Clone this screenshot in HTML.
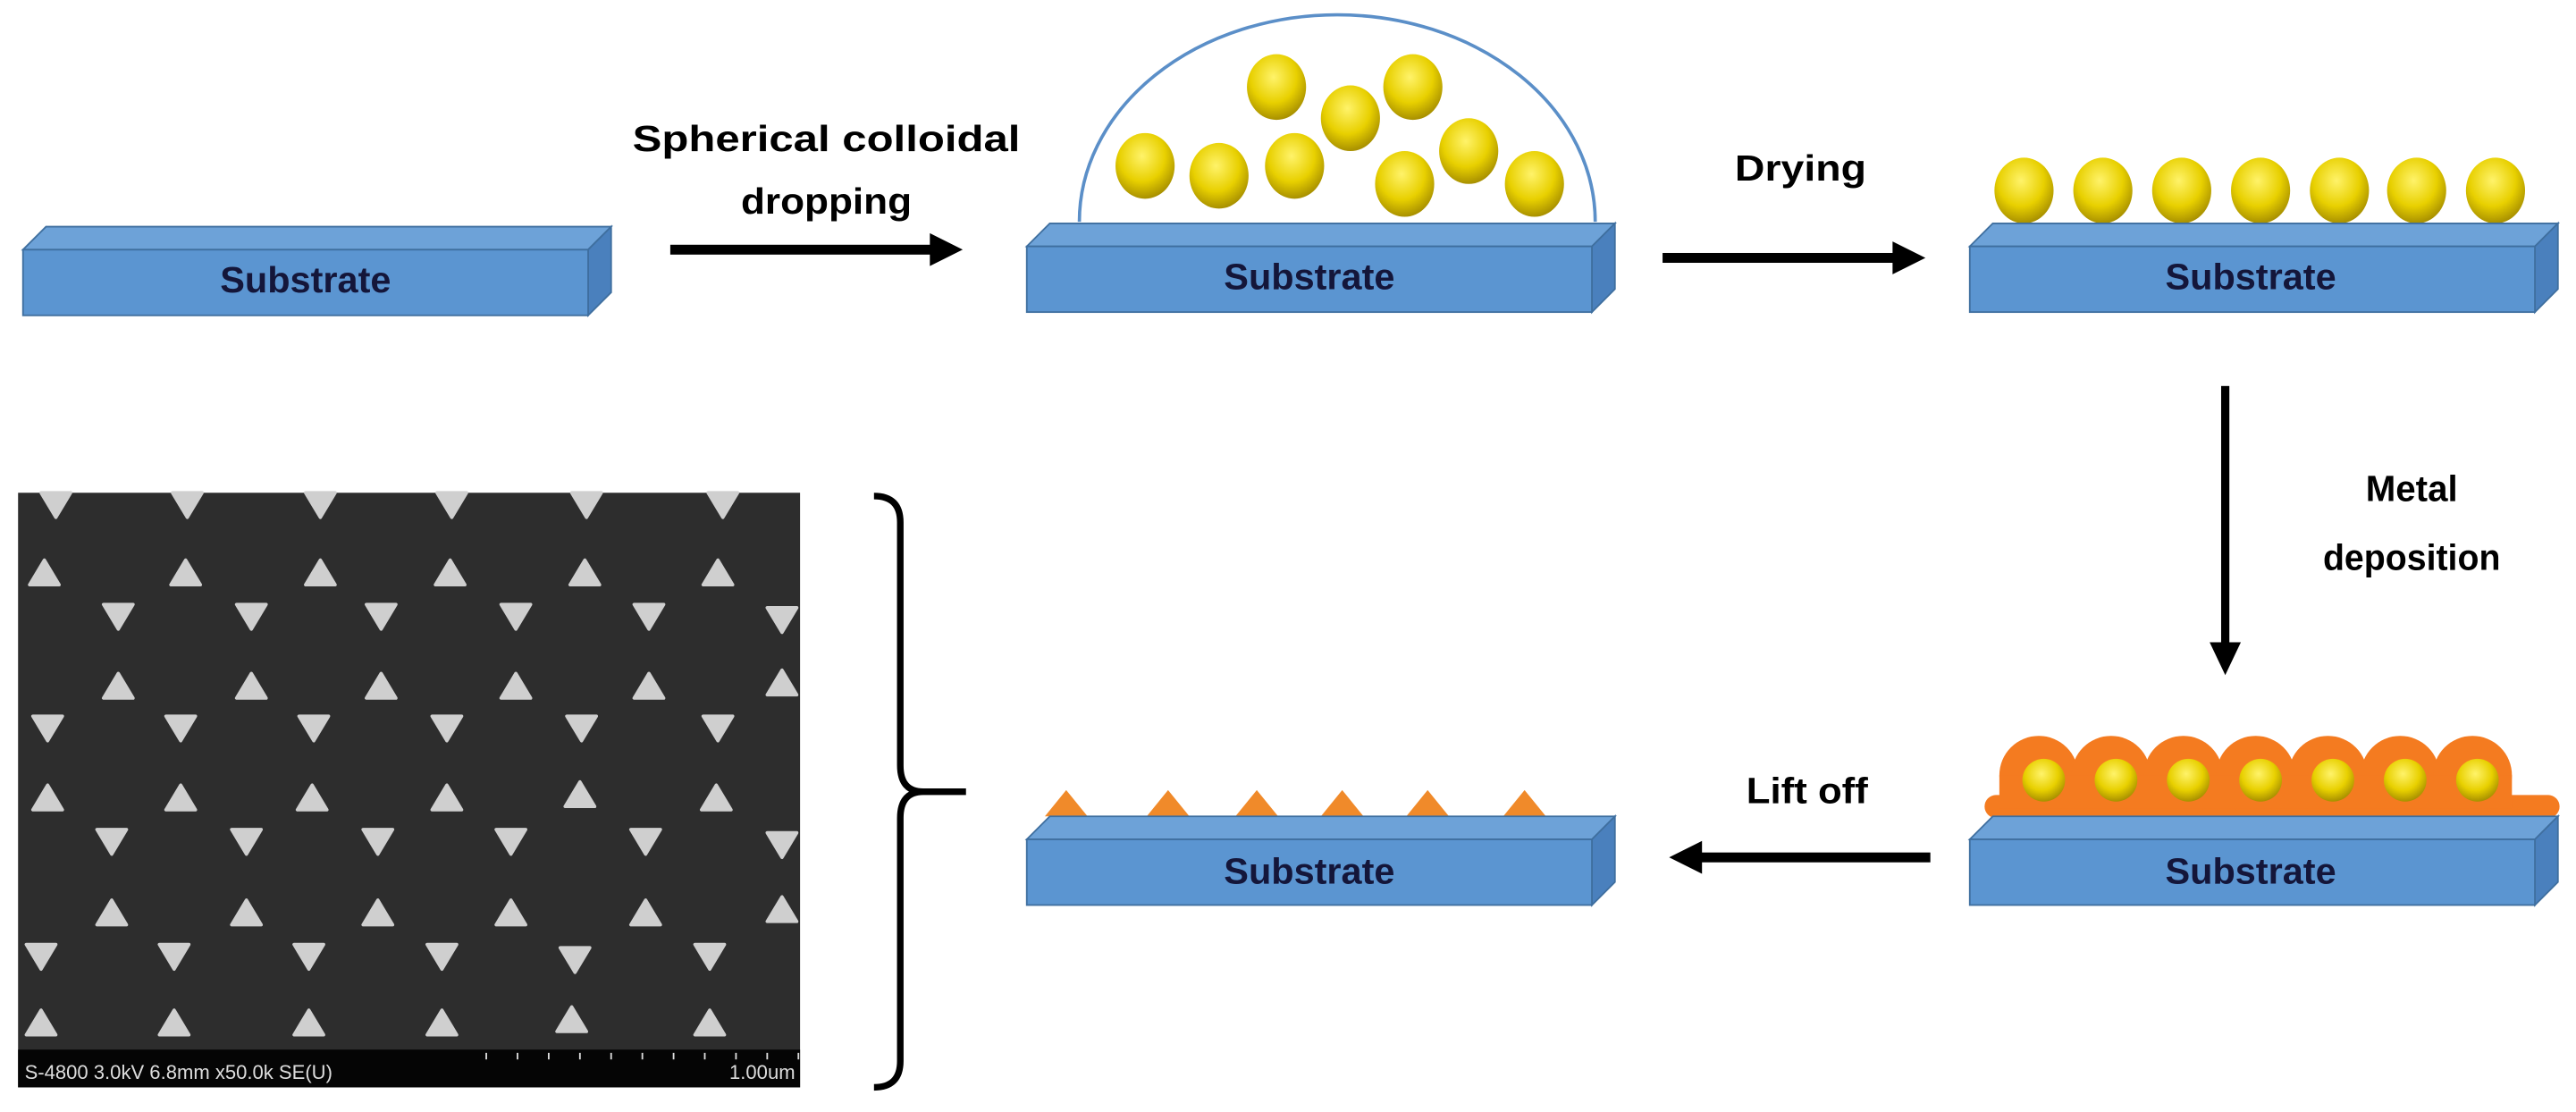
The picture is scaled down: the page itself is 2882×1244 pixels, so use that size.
<!DOCTYPE html>
<html><head><meta charset="utf-8"><style>
html,body{margin:0;padding:0;background:#fff;overflow:hidden}
svg{display:block}
.lb{font-family:"Liberation Sans",sans-serif;font-weight:bold;font-size:22px;fill:#000;text-anchor:middle}
.st{font-family:"Liberation Sans",sans-serif;font-weight:bold;font-size:22px;fill:#14163a;text-anchor:middle}
</style></head><body>
<svg width="2882" height="1244" viewBox="0 0 1568 677" preserveAspectRatio="none" xmlns="http://www.w3.org/2000/svg">
<defs>
<radialGradient id="yb" cx="0.45" cy="0.35" r="0.65">
<stop offset="0" stop-color="#fff36a"/><stop offset="0.6" stop-color="#e8d000"/><stop offset="1" stop-color="#a89000"/>
</radialGradient>
<g id="sub">
<polygon points="0,14 14,0 358,0 344,14" fill="#6da2d8" stroke="#3f6f9f" stroke-width="1"/>
<polygon points="344,14 358,0 358,40 344,54" fill="#4a80bd" stroke="#3f6f9f" stroke-width="1"/>
<rect x="0" y="14" width="344" height="40" fill="#5b95d1" stroke="#3f6f9f" stroke-width="1"/>
</g>
<polygon id="td" points="-9,-7 9,-7 0,8" fill="#cfcfcf" stroke="#cfcfcf" stroke-width="2" stroke-linejoin="round"/>
<polygon id="tu" points="-9,7 9,7 0,-8" fill="#cfcfcf" stroke="#cfcfcf" stroke-width="2" stroke-linejoin="round"/>
<g id="ball"><ellipse rx="18" ry="20" fill="url(#yb)"/></g>
</defs>

<use href="#sub" x="14" y="138"/>
<text class="st" x="186" y="178" textLength="104" lengthAdjust="spacingAndGlyphs">Substrate</text>
<rect x="408" y="149" width="160" height="6" fill="#000"/>
<polygon points="566,142 586,152 566,162" fill="#000"/>
<text class="lb" x="503" y="92" textLength="236" lengthAdjust="spacingAndGlyphs" font-size="25">Spherical colloidal</text>
<text class="lb" x="503" y="130" textLength="104" lengthAdjust="spacingAndGlyphs" font-size="25">dropping</text>

<path d="M657,135 A157,126 0 0 1 971,135" fill="none" stroke="#5b8fc8" stroke-width="2"/>
<use href="#ball" x="697" y="101"/><use href="#ball" x="742" y="107"/><use href="#ball" x="777" y="53"/>
<use href="#ball" x="788" y="101"/><use href="#ball" x="822" y="72"/><use href="#ball" x="860" y="53"/>
<use href="#ball" x="855" y="112"/><use href="#ball" x="894" y="92"/><use href="#ball" x="934" y="112"/>
<use href="#sub" x="625" y="136"/>
<text class="st" x="797" y="176" textLength="104" lengthAdjust="spacingAndGlyphs">Substrate</text>

<rect x="1012" y="154" width="142" height="6" fill="#000"/>
<polygon points="1152,147 1172,157 1152,167" fill="#000"/>
<text class="lb" x="1096" y="110" textLength="80" lengthAdjust="spacingAndGlyphs" font-size="25">Drying</text>

<use href="#ball" x="1232" y="116"/><use href="#ball" x="1280" y="116"/><use href="#ball" x="1328" y="116"/>
<use href="#ball" x="1376" y="116"/><use href="#ball" x="1424" y="116"/><use href="#ball" x="1471" y="116"/>
<use href="#ball" x="1519" y="116"/>
<use href="#sub" x="1199" y="136"/>
<text class="st" x="1370" y="176" textLength="104" lengthAdjust="spacingAndGlyphs">Substrate</text>

<rect x="1352" y="235" width="5" height="158" fill="#000"/>
<polygon points="1345,391 1364,391 1354.5,411" fill="#000"/>
<text class="lb" x="1468" y="305" font-size="25" textLength="56" lengthAdjust="spacingAndGlyphs">Metal</text>
<text class="lb" x="1468" y="347" font-size="25" textLength="108" lengthAdjust="spacingAndGlyphs">deposition</text>

<rect x="1208" y="484" width="350" height="14" rx="7" fill="#f47b20"/>
<g fill="#f47b20">
<circle cx="1241" cy="472" r="24"/><circle cx="1285" cy="472" r="24"/><circle cx="1329" cy="472" r="24"/>
<circle cx="1373" cy="472" r="24"/><circle cx="1417" cy="472" r="24"/><circle cx="1461" cy="472" r="24"/>
<circle cx="1505" cy="472" r="24"/>
<rect x="1217" y="472" width="312" height="20"/>
</g>
<g>
<circle cx="1244" cy="475" r="13" fill="url(#yb)"/><circle cx="1288" cy="475" r="13" fill="url(#yb)"/>
<circle cx="1332" cy="475" r="13" fill="url(#yb)"/><circle cx="1376" cy="475" r="13" fill="url(#yb)"/>
<circle cx="1420" cy="475" r="13" fill="url(#yb)"/><circle cx="1464" cy="475" r="13" fill="url(#yb)"/>
<circle cx="1508" cy="475" r="13" fill="url(#yb)"/>
</g>
<use href="#sub" x="1199" y="497"/>
<text class="st" x="1370" y="538" textLength="104" lengthAdjust="spacingAndGlyphs">Substrate</text>

<rect x="1034" y="519" width="141" height="6" fill="#000"/>
<polygon points="1036,512 1016,522 1036,532" fill="#000"/>
<text class="lb" x="1100" y="489" font-size="25" textLength="74" lengthAdjust="spacingAndGlyphs">Lift off</text>

<g fill="#f08a2a">
<polygon points="636,497 662,497 649,481"/><polygon points="698,497 724,497 711,481"/>
<polygon points="752,497 778,497 765,481"/><polygon points="804,497 830,497 817,481"/>
<polygon points="856,497 882,497 869,481"/><polygon points="915,497 941,497 928,481"/>
</g>
<use href="#sub" x="625" y="497"/>
<text class="st" x="797" y="538" textLength="104" lengthAdjust="spacingAndGlyphs">Substrate</text>

<rect x="11" y="300" width="476" height="362" fill="#2d2d2d"/>
<g>
<use href="#td" x="34" y="307"/><use href="#td" x="114" y="307"/><use href="#td" x="195" y="307"/><use href="#td" x="275" y="307"/><use href="#td" x="357" y="307"/><use href="#td" x="440" y="307"/>
<use href="#tu" x="27" y="349"/><use href="#tu" x="113" y="349"/><use href="#tu" x="195" y="349"/><use href="#tu" x="274" y="349"/><use href="#tu" x="356" y="349"/><use href="#tu" x="437" y="349"/>
<use href="#td" x="72" y="375"/><use href="#td" x="153" y="375"/><use href="#td" x="232" y="375"/><use href="#td" x="314" y="375"/><use href="#td" x="395" y="375"/><use href="#td" x="476" y="377"/>
<use href="#tu" x="72" y="418"/><use href="#tu" x="153" y="418"/><use href="#tu" x="232" y="418"/><use href="#tu" x="314" y="418"/><use href="#tu" x="395" y="418"/><use href="#tu" x="476" y="416"/>
<use href="#td" x="29" y="443"/><use href="#td" x="110" y="443"/><use href="#td" x="191" y="443"/><use href="#td" x="272" y="443"/><use href="#td" x="354" y="443"/><use href="#td" x="437" y="443"/>
<use href="#tu" x="29" y="486"/><use href="#tu" x="110" y="486"/><use href="#tu" x="190" y="486"/><use href="#tu" x="272" y="486"/><use href="#tu" x="353" y="484"/><use href="#tu" x="436" y="486"/>
<use href="#td" x="68" y="512"/><use href="#td" x="150" y="512"/><use href="#td" x="230" y="512"/><use href="#td" x="311" y="512"/><use href="#td" x="393" y="512"/><use href="#td" x="476" y="514"/>
<use href="#tu" x="68" y="556"/><use href="#tu" x="150" y="556"/><use href="#tu" x="230" y="556"/><use href="#tu" x="311" y="556"/><use href="#tu" x="393" y="556"/><use href="#tu" x="476" y="554"/>
<use href="#td" x="25" y="582"/><use href="#td" x="106" y="582"/><use href="#td" x="188" y="582"/><use href="#td" x="269" y="582"/><use href="#td" x="350" y="584"/><use href="#td" x="432" y="582"/>
<use href="#tu" x="25" y="623"/><use href="#tu" x="106" y="623"/><use href="#tu" x="188" y="623"/><use href="#tu" x="269" y="623"/><use href="#tu" x="348" y="621"/><use href="#tu" x="432" y="623"/>
</g>
<rect x="11" y="639" width="476" height="23" fill="#050505"/>
<g stroke="#ddd" stroke-width="1">
<line x1="296" y1="641" x2="296" y2="645"/><line x1="315" y1="641" x2="315" y2="645"/><line x1="334" y1="641" x2="334" y2="645"/><line x1="353" y1="641" x2="353" y2="645"/><line x1="372" y1="641" x2="372" y2="645"/><line x1="391" y1="641" x2="391" y2="645"/><line x1="410" y1="641" x2="410" y2="645"/><line x1="429" y1="641" x2="429" y2="645"/><line x1="448" y1="641" x2="448" y2="645"/><line x1="467" y1="641" x2="467" y2="645"/><line x1="486" y1="641" x2="486" y2="645"/>
</g>
<text x="15" y="657" font-family="Liberation Sans,sans-serif" font-size="12" fill="#ddd">S-4800 3.0kV 6.8mm x50.0k SE(U)</text>
<text x="484" y="657" font-family="Liberation Sans,sans-serif" font-size="12" fill="#ddd" text-anchor="end">1.00um</text>

<path d="M532,302 Q548,302 548,318 L548,466 Q548,482 562,482 L588,482 M562,482 Q548,482 548,498 L548,646 Q548,662 532,662" fill="none" stroke="#000" stroke-width="4"/>
</svg>
</body></html>
